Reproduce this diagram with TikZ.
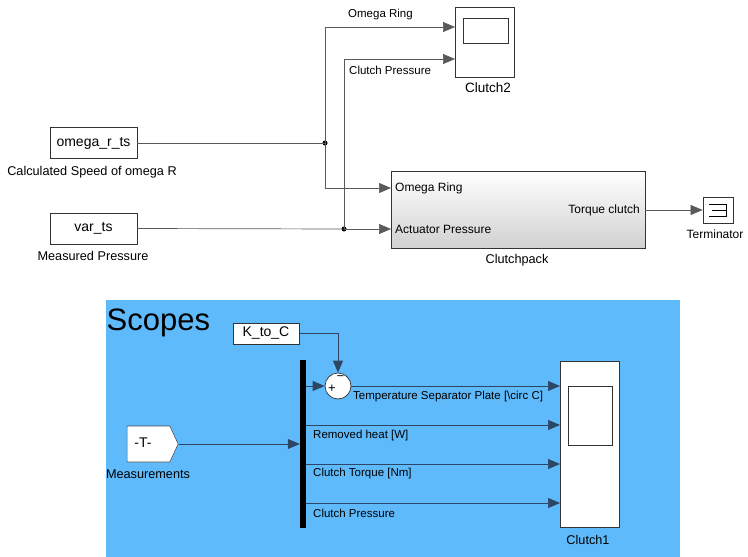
\documentclass[tikz,border=0pt]{standalone}
\usepackage{fontspec}
\setmainfont{Liberation Sans}
\usetikzlibrary{arrows.meta,shapes.symbols,calc}
\definecolor{areablue}{RGB}{95,186,251}
\definecolor{wire}{RGB}{90,90,90}
\definecolor{bwire}{RGB}{45,70,100}
\begin{document}
\begin{tikzpicture}[x=1pt,y=-1pt,
  every node/.style={font=\fontsize{11.5}{13}\selectfont, inner sep=0pt},
  namefont/.style={font=\fontsize{12.7}{14}\selectfont},
  infont/.style={font=\fontsize{14}{16}\selectfont},
  blk/.style={draw=black!80, line width=0.8pt, fill=white, minimum width=#1},
  wireline/.style={draw=wire, line width=0.7pt},
  arr/.style={wireline, -{Triangle[length=12pt,width=10pt]}},
  bwireline/.style={draw=bwire, line width=0.7pt},
  barr/.style={bwireline, -{Triangle[length=12pt,width=10pt]}},
  dot/.style={circle, fill=black, minimum size=5pt, inner sep=0pt},
  lbl/.style={anchor=center}
]
\useasboundingbox (0,0) rectangle (748,557);
\fill[white] (0,0) rectangle (748,557);

% ---------- top part ----------
\node[blk=87, minimum height=31, infont] (omega) at (93.5,143) {omega\_r\_ts};
\node[lbl, namefont] (omegalbl) at (92,172) {Calculated Speed of omega R};
\node[blk=87, minimum height=31, infont] (var) at (93.5,228.5) {var\_ts};
\node[lbl, namefont] (varlbl) at (93,256) {Measured Pressure};

% Clutch2 scope
\node[blk=59, minimum height=70] (clutch2) at (484.5,42.5) {};
\draw[black!80, line width=0.8pt] (463,18) rectangle (508,43);
\node[lbl, font=\fontsize{13.5}{15}\selectfont] (clutch2lbl) at (488,88) {Clutch2};
\coordinate (c2in1) at (455,27);
\coordinate (c2in2) at (455,59);

% Clutchpack
\node[draw=black!80, line width=0.8pt, top color=white, bottom color=black!18,
      minimum width=254, minimum height=77] (cp) at (518,209.5) {};
\coordinate (cpin1) at (391,188);
\coordinate (cpin2) at (391,229);
\coordinate (cpout) at (645,210);
\node[anchor=west, font=\fontsize{12}{14}\selectfont] (cpl1) at (395,188) {Omega Ring};
\node[anchor=west, font=\fontsize{12}{14}\selectfont] (cpl2) at (395,229) {Actuator Pressure};
\node[anchor=east, font=\fontsize{12}{14}\selectfont] (cpl3) at (640,210) {Torque clutch};
\node[lbl, namefont] (cplbl) at (517,260) {Clutchpack};

% Terminator
\node[blk=30, minimum height=26] (term) at (718,210) {};
\draw[black, line width=0.8pt] (709,204) -- (726,204) -- (726,216) -- (709,216)
  (712,210) -- (726,210);
\node[lbl, font=\fontsize{12}{14}\selectfont] (termlbl) at (715,234) {Terminator};

% junctions
\coordinate (j1) at (325,143);
\coordinate (j2) at (344,229);
\node[dot] (dj1) at (j1) {};
\node[dot] (dj2) at (j2) {};

% wires
\draw[wireline] (omega.east) -- (j1);
\draw[arr] (j1) |- (c2in1);
\draw[arr] (j1) |- (cpin1);
\draw[wireline] (var.east) -- (j2);
\draw[arr] (j2) -- (cpin2);
\draw[arr] (j2) |- (c2in2);
\draw[arr] (cpout) -- (term.west);

\node[anchor=west] (wl1) at (348,15) {Omega Ring};
\node[anchor=west] (wl2) at (349,70) {Clutch Pressure};

% ---------- Scopes area ----------
\fill[areablue] (106,300) rectangle (680,557);
\node[anchor=base west, font=\fontsize{31}{34}\selectfont] (scopes) at (106.5,330) {Scopes};

\node[blk=66, minimum height=21, infont] (k) at (266,333.5) {K\_to\_C};
\node[fill=black, minimum width=6, minimum height=168] (mux) at (303,444) {};
\node[circle, draw=black!80, line width=0.7pt, fill=white, minimum size=26] (sum) at (338,386) {};
\node[font=\fontsize{13}{13}\selectfont] (plus) at (332,388.5) {+};
\node[font=\fontsize{13}{13}\selectfont] (minus) at (340.5,378.5) {−};

\node[signal, signal to=east, signal pointer angle=130, draw=black!70, line width=0.6pt,
      fill=white, minimum width=51, minimum height=36] (from) at (148.5,444) {};
\node[infont] (fromtxt) at (143,443) {-T-};
\node[lbl, namefont] (measlbl) at (148,474) {Measurements};

% Clutch1 scope
\node[blk=59, minimum height=166] (clutch1) at (589.5,444) {};
\draw[black!80, line width=0.8pt] (568,386) rectangle (612,445);
\node[lbl, namefont] (clutch1lbl) at (588,540) {Clutch1};
\coordinate (s1) at (560,386);
\coordinate (s2) at (560,425);
\coordinate (s3) at (560,464);
\coordinate (s4) at (560,503);
\coordinate (kc) at (338,333.5);
\coordinate (m1) at (306,386);
\coordinate (m2) at (306,425);
\coordinate (m3) at (306,464);
\coordinate (m4) at (306,503);

\draw[barr] (k.east) -- (kc) -- (sum.north);
\draw[barr] (m1) -- (sum.west);
\draw[barr] (sum.east) -- (s1);
\draw[barr] (m2) -- (s2);
\draw[barr] (m3) -- (s3);
\draw[barr] (m4) -- (s4);
\draw[barr] (from.east) -- (mux.west |- from.east);

\node[anchor=west] (t1) at (353,397) {Temperature Separator Plate [\textbackslash circ C]};
\node[anchor=west] (t2) at (313,436) {Removed heat [W]};
\node[anchor=west] (t3) at (313,474) {Clutch Torque [Nm]};
\node[anchor=west] (t4) at (313,513) {Clutch Pressure};
\end{tikzpicture}
\end{document}
